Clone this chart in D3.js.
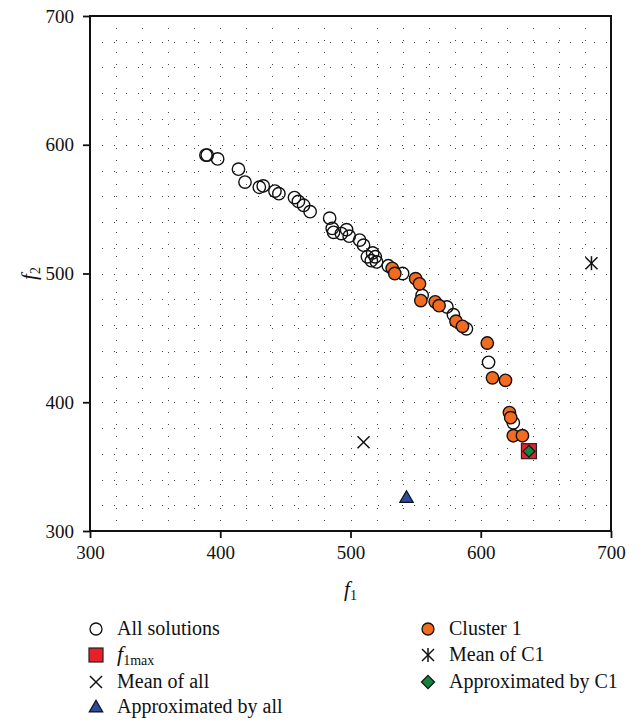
<!DOCTYPE html>
<html>
<head>
<meta charset="utf-8">
<script src="https://cdn.jsdelivr.net/npm/d3@7"></script>
<style>
  body { margin: 0; background: #fff; }
  text { font-family: "Liberation Serif", "Times New Roman", serif; }
</style>
</head>
<body>
<svg id="chart"></svg>
<script>
const width = 642;
const height = 723;
const margin = {left: 90, right: 31, top: 16, bottom: 192};

// all solutions (open circles)
const allF1 = [389, 390, 398, 414, 419, 430, 433, 442, 445, 457, 460, 464, 469, 484, 486, 487, 493, 497, 499, 507, 510,
               513, 517, 516, 520, 519, 529, 540, 555, 574, 579, 589, 606, 625];
const allF2 = [592, 592, 589, 581, 571, 567, 568, 564, 562, 559, 556, 553, 548, 543, 535, 532, 531, 534, 529, 526, 522,
               513, 516, 510, 509, 513, 506, 500, 483, 474, 468, 457, 431, 384];

// cluster 1 (orange)
const c1F1 = [532, 534, 550, 553, 554, 565, 568, 581, 586, 605, 609, 619, 622, 623, 625, 632];
const c1F2 = [504, 500, 496, 492, 479, 478, 475, 463, 459, 446, 419, 417, 392, 388, 374, 374];

const f1max = [637, 362];
const meanAll = [510, 369];
const meanC1 = [685, 508];
const approxAll = [543, 326];
const approxC1 = [637, 362];

const xTicks = [300, 400, 500, 600, 700];
const yTicks = [300, 400, 500, 600, 700];
const gridVals = d3.range(320, 700, 20);

const orange = '#f36b21';
const serif = '"Liberation Serif", "Times New Roman", serif';

const svg = d3.select('#chart').attr('width', width).attr('height', height);

const x = d3.scaleLinear().domain([300, 700]).range([margin.left, width - margin.right]);
const y = d3.scaleLinear().domain([300, 700]).range([height - margin.bottom, margin.top]);

// dotted grid
const grid = svg.append('g').attr('stroke', '#444').attr('stroke-width', 1);
grid.selectAll('.gv').data(gridVals).enter().append('line')
  .attr('x1', d => Math.round(x(d)) + 0.5).attr('x2', d => Math.round(x(d)) + 0.5)
  .attr('y1', y(700) + 12).attr('y2', y(300))
  .attr('stroke-dasharray', '1,11');
grid.selectAll('.gh').data(gridVals).enter().append('line')
  .attr('y1', d => Math.round(y(d)) + 0.5).attr('y2', d => Math.round(y(d)) + 0.5)
  .attr('x1', x(300) + 12).attr('x2', x(700))
  .attr('stroke-dasharray', '1,11');

// frame
svg.append('rect')
  .attr('x', x(300)).attr('y', y(700))
  .attr('width', x(700) - x(300)).attr('height', y(300) - y(700))
  .attr('fill', 'none').attr('stroke', '#111').attr('stroke-width', 2);

// axes
const xAxis = svg.append('g')
  .attr('transform', `translate(0, ${y(300)})`)
  .call(d3.axisBottom(x).tickValues(xTicks).tickSize(7).tickPadding(8));
const yAxis = svg.append('g')
  .attr('transform', `translate(${x(300)}, 0)`)
  .call(d3.axisLeft(y).tickValues(yTicks).tickSize(7).tickPadding(9));
[xAxis, yAxis].forEach(a => {
  a.attr('font-family', null);
  a.select('.domain').remove();
  a.selectAll('line').attr('stroke', '#111').attr('stroke-width', 1.8);
  a.selectAll('text').attr('font-size', 19).attr('fill', '#111')
    .style('font-family', serif);
});

// axis titles
const xt = svg.append('text').attr('x', x(500)).attr('y', 596)
  .attr('text-anchor', 'middle').attr('font-size', 21).attr('fill', '#111');
xt.append('tspan').attr('font-style', 'italic').text('f');
xt.append('tspan').attr('font-size', 14).attr('dy', 4).text('1');

const yt = svg.append('text')
  .attr('transform', `translate(36, ${y(500)}) rotate(-90)`)
  .attr('text-anchor', 'middle').attr('font-size', 21).attr('fill', '#111');
yt.append('tspan').attr('font-style', 'italic').text('f');
yt.append('tspan').attr('font-size', 14).attr('dy', 4).text('2');

// markers
const pts = svg.append('g');
pts.selectAll('.all').data(d3.zip(allF1, allF2)).enter().append('circle')
  .attr('cx', d => x(d[0])).attr('cy', d => y(d[1])).attr('r', 6.2)
  .attr('fill', 'none').attr('stroke', '#111').attr('stroke-width', 1.4);

pts.selectAll('.c1').data(d3.zip(c1F1, c1F2)).enter().append('circle')
  .attr('cx', d => x(d[0])).attr('cy', d => y(d[1])).attr('r', 6.2)
  .attr('fill', orange).attr('stroke', '#111').attr('stroke-width', 1.4);

function drawCross(g, cx, cy, s, star) {
  g.append('line').attr('x1', cx - s).attr('y1', cy - s).attr('x2', cx + s).attr('y2', cy + s);
  g.append('line').attr('x1', cx - s).attr('y1', cy + s).attr('x2', cx + s).attr('y2', cy - s);
  if (star) g.append('line').attr('x1', cx).attr('y1', cy - s - 1).attr('x2', cx).attr('y2', cy + s + 1);
}

const marks = svg.append('g').attr('stroke', '#111').attr('stroke-width', 1.5);
drawCross(marks, x(meanAll[0]), y(meanAll[1]), 6, false);
drawCross(marks, x(meanC1[0]), y(meanC1[1]), 6, true);

svg.append('rect')
  .attr('x', x(f1max[0]) - 7.5).attr('y', y(f1max[1]) - 7.5).attr('width', 15).attr('height', 15)
  .attr('fill', '#e8202a').attr('stroke', '#222').attr('stroke-width', 1.2);

svg.append('path')
  .attr('d', d3.symbol().type(d3.symbolDiamond2).size(90)())
  .attr('transform', `translate(${x(approxC1[0])}, ${y(approxC1[1])})`)
  .attr('fill', '#17813f').attr('stroke', '#111').attr('stroke-width', 1.2);

svg.append('path')
  .attr('d', d3.symbol().type(d3.symbolTriangle2).size(130)())
  .attr('transform', `translate(${x(approxAll[0])}, ${y(approxAll[1]) + 1})`)
  .attr('fill', '#2b4c9c').attr('stroke', '#111').attr('stroke-width', 1.2);

// legend
const leg = svg.append('g');
const legItems = [
  {col: 0, row: 0, type: 'open', label: 'All solutions'},
  {col: 0, row: 1, type: 'square', label: 'f1max'},
  {col: 0, row: 2, type: 'x', label: 'Mean of all'},
  {col: 0, row: 3, type: 'tri', label: 'Approximated by all'},
  {col: 1, row: 0, type: 'orange', label: 'Cluster 1'},
  {col: 1, row: 1, type: 'star', label: 'Mean of C1'},
  {col: 1, row: 2, type: 'diamond', label: 'Approximated by C1'}
];
const colX = [96, 428];
const rowY = [629, 655, 682, 707];

legItems.forEach(it => {
  const cx = colX[it.col], cy = rowY[it.row];
  const g = leg.append('g');
  if (it.type === 'open' || it.type === 'orange') {
    g.append('circle').attr('cx', cx).attr('cy', cy).attr('r', 6)
      .attr('fill', it.type === 'open' ? '#fff' : orange).attr('stroke', '#111').attr('stroke-width', 1.3);
  } else if (it.type === 'square') {
    g.append('rect').attr('x', cx - 7).attr('y', cy - 7).attr('width', 14).attr('height', 14)
      .attr('fill', '#e8202a').attr('stroke', '#222').attr('stroke-width', 1.2);
  } else if (it.type === 'x' || it.type === 'star') {
    const gg = g.append('g').attr('stroke', '#111').attr('stroke-width', 1.5);
    drawCross(gg, cx, cy, 6, it.type === 'star');
  } else if (it.type === 'tri') {
    g.append('path').attr('d', d3.symbol().type(d3.symbolTriangle2).size(130)())
      .attr('transform', `translate(${cx}, ${cy + 1})`)
      .attr('fill', '#2b4c9c').attr('stroke', '#111').attr('stroke-width', 1.2);
  } else if (it.type === 'diamond') {
    g.append('path').attr('d', d3.symbol().type(d3.symbolDiamond2).size(110)())
      .attr('transform', `translate(${cx}, ${cy})`)
      .attr('fill', '#17813f').attr('stroke', '#111').attr('stroke-width', 1.2);
  }
  const t = g.append('text').attr('x', cx + 21).attr('y', cy + 6)
    .attr('font-size', 20).attr('fill', '#111').style('font-family', serif);
  if (it.label === 'f1max') {
    t.append('tspan').attr('font-style', 'italic').attr('font-size', 22).text('f');
    t.append('tspan').attr('font-size', 14).attr('dy', 4).text('1max');
  } else {
    t.text(it.label);
  }
});
</script>
</body>
</html>
